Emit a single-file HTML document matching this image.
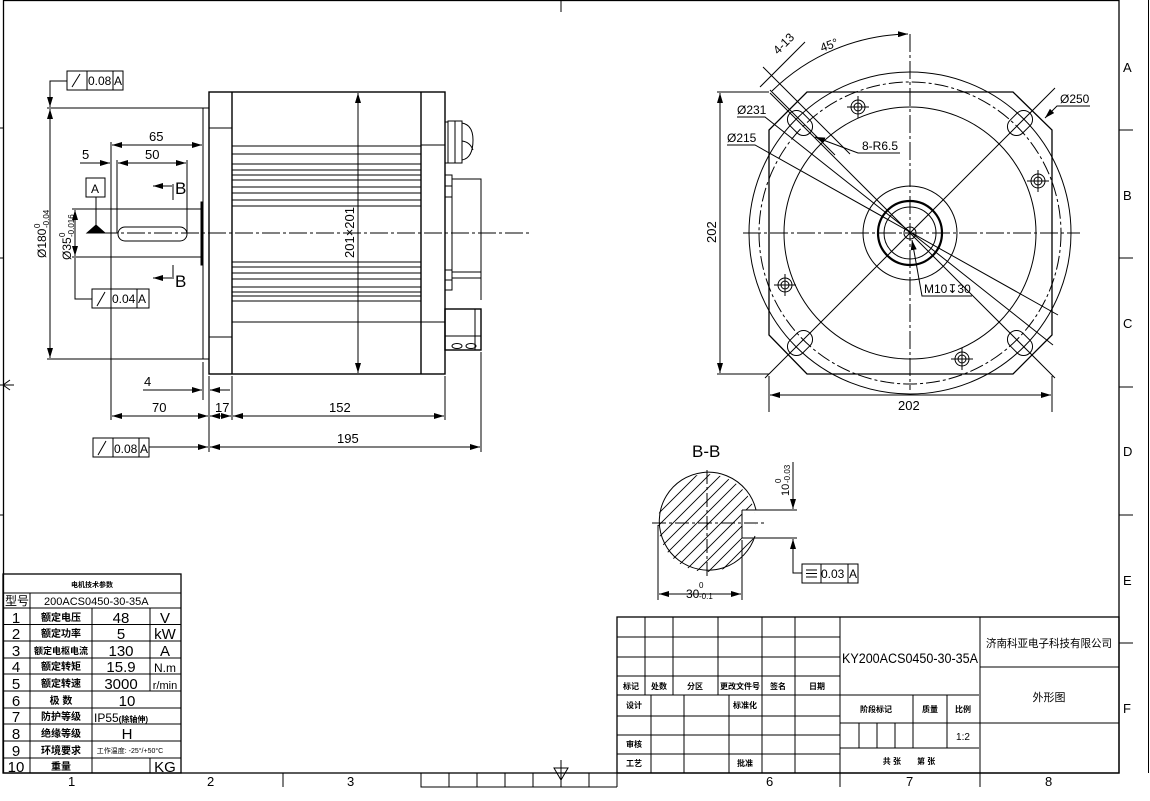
<!DOCTYPE html>
<html><head><meta charset="utf-8"><style>
html,body{margin:0;padding:0;background:#fff}
svg{display:block}
text{font-family:"Liberation Sans","Noto Sans CJK SC",sans-serif;fill:#000}
</style></head><body>
<svg width="1150" height="801" viewBox="0 0 1150 801" xmlns="http://www.w3.org/2000/svg">
<defs>
<marker id="ar" viewBox="0 0 10 6" refX="10" refY="3" markerWidth="10" markerHeight="6" orient="auto-start-reverse" markerUnits="userSpaceOnUse"><path d="M0,0 L10,3 L0,6 z" fill="#000"/></marker>
<clipPath id="cc"><circle cx="707" cy="523" r="49"/></clipPath>
</defs>
<g fill="none" stroke="#000" stroke-width="1">
<rect x="3.5" y="0.5" width="1115.5" height="772.5" stroke-width="1.3"/>
<line x1="1148.5" y1="0" x2="1148.5" y2="773"/>
<line x1="561" y1="0" x2="561" y2="12"/>
<line x1="1119" y1="130" x2="1133" y2="130"/><line x1="1119" y1="258" x2="1133" y2="258"/><line x1="1119" y1="387" x2="1133" y2="387"/><line x1="1119" y1="515" x2="1133" y2="515"/><line x1="1119" y1="643" x2="1133" y2="643"/>
<line x1="0" y1="128" x2="3" y2="128"/><line x1="0" y1="258" x2="3" y2="258"/><line x1="0" y1="515" x2="3" y2="515"/>
<path d="M3,385 L10,380 M3,385 L10,390 M0,385 L14,385"/>
<line x1="283" y1="773" x2="283" y2="787"/><line x1="840" y1="773" x2="840" y2="787"/><line x1="980" y1="773" x2="980" y2="787"/>
<path d="M421,773 V787 H617 M449,773 V787 M477,773 V787 M505,773 V787 M533,773 V787 M589,773 V787 M617,773 V787"/>
<path d="M554,768 L568,768 L561,780 z M561,760 V787"/>

<rect x="67" y="71" width="56" height="19"/><line x1="87" y1="71" x2="87" y2="90"/><line x1="113" y1="71" x2="113" y2="90"/>
<path d="M72,87 L80,74"/>
<polyline points="67,81 50,81 50,107" marker-end="url(#ar)"/>
<line x1="47" y1="108" x2="203" y2="108"/><line x1="47" y1="359" x2="203" y2="359"/>
<line x1="50" y1="109" x2="50" y2="358" marker-start="url(#ar)" marker-end="url(#ar)"/>
<line x1="72" y1="209" x2="111" y2="209"/><line x1="72" y1="257" x2="111" y2="257"/>
<line x1="75" y1="210" x2="75" y2="256" marker-start="url(#ar)" marker-end="url(#ar)"/>
<polyline points="75,258 75,299 92,299"/>
<rect x="92" y="289" width="57" height="19"/><line x1="111" y1="289" x2="111" y2="308"/><line x1="137" y1="289" x2="137" y2="308"/><path d="M97,306 L105,292"/>
<rect x="86" y="178" width="19" height="19"/><line x1="96" y1="197" x2="96" y2="226"/>
<path d="M87,233 L105,233 L96,225 z" fill="#000"/>
<line x1="111" y1="209" x2="203" y2="209"/><line x1="111" y1="257" x2="203" y2="257"/>
<line x1="111" y1="142" x2="111" y2="420"/>
<line x1="117" y1="160" x2="117" y2="233"/><line x1="187" y1="160" x2="187" y2="233"/>
<line x1="112" y1="145" x2="202" y2="145" marker-start="url(#ar)" marker-end="url(#ar)"/>
<line x1="118" y1="163" x2="186" y2="163" marker-start="url(#ar)" marker-end="url(#ar)"/>
<line x1="80" y1="163" x2="110" y2="163" marker-end="url(#ar)"/>
<rect x="118" y="227" width="69" height="14" rx="7"/>
<line x1="153" y1="186" x2="172" y2="186" marker-start="url(#ar)"/><line x1="173" y1="184" x2="173" y2="200"/>
<line x1="153" y1="278" x2="172" y2="278" marker-start="url(#ar)"/><line x1="173" y1="265" x2="173" y2="279"/>
<rect x="203" y="108" width="6" height="251"/>
<rect x="201" y="202" width="2" height="63" fill="#000"/>
<rect x="209" y="92" width="236" height="282" stroke-width="1.4"/>
<line x1="232" y1="92" x2="232" y2="374" stroke-width="1.4"/>
<line x1="421" y1="92" x2="421" y2="374" stroke-width="1.4"/>
<line x1="209" y1="128" x2="232" y2="128"/><line x1="209" y1="337" x2="232" y2="337"/>
<line x1="421" y1="145" x2="445" y2="145"/><line x1="421" y1="322" x2="445" y2="322"/>
<path d="M232,146H421M232,154H421M232,164H421M232,170H421M232,175H421M232,180H421M232,187H421M232,193H421M232,200H421M232,206H421M232,262H421M232,267H421M232,273H421M232,279H421M232,287H421M232,292H421M232,296H421M232,301H421M232,322H421"/>
<line x1="358" y1="93" x2="358" y2="373" marker-start="url(#ar)" marker-end="url(#ar)"/>
<rect x="445" y="122" width="3" height="41"/><rect x="448" y="121" width="7" height="42"/><rect x="455" y="121" width="7" height="42"/>
<path d="M462,123 Q473,125 473,140 Q473,158 462,160 M462,141 Q470,142 473,150"/>
<rect x="445" y="175" width="7" height="115"/><path d="M445,186H452M445,197H452M445,270H452M445,280H452"/>
<path d="M452,179 H481 V300 M452,278 H481 M452,272 H481"/>
<rect x="445" y="309" width="36" height="41" stroke-width="1.4"/>
<line x1="475" y1="309" x2="475" y2="350"/><line x1="445" y1="336" x2="481" y2="336"/>
<ellipse cx="457" cy="346" rx="5" ry="2.5"/><ellipse cx="471" cy="346" rx="5" ry="2.5"/>
<line x1="100" y1="233" x2="530" y2="233" stroke-dasharray="18,3,3,3"/>
<line x1="203" y1="362" x2="203" y2="400"/><line x1="209" y1="376" x2="209" y2="452"/><line x1="232" y1="376" x2="232" y2="420"/><line x1="445" y1="376" x2="445" y2="420"/><line x1="481" y1="352" x2="481" y2="452"/>
<line x1="143" y1="390" x2="202" y2="390" marker-end="url(#ar)"/><line x1="230" y1="390" x2="210" y2="390" marker-end="url(#ar)"/>
<line x1="112" y1="416" x2="208" y2="416" marker-start="url(#ar)" marker-end="url(#ar)"/>
<line x1="210" y1="416" x2="231" y2="416" marker-start="url(#ar)" marker-end="url(#ar)"/>
<line x1="233" y1="416" x2="444" y2="416" marker-start="url(#ar)" marker-end="url(#ar)"/>
<line x1="210" y1="447" x2="480" y2="447" marker-start="url(#ar)" marker-end="url(#ar)"/>
<rect x="93" y="438" width="56" height="19"/><line x1="113" y1="438" x2="113" y2="457"/><line x1="139" y1="438" x2="139" y2="457"/><path d="M98,455 L106,441"/>
<line x1="149" y1="447" x2="208" y2="447" marker-end="url(#ar)"/>

<polygon points="807,92 1013,92 1052,130 1052,335 1013,374 807,374 769,335 769,130" stroke-width="1.3"/>
<circle cx="910" cy="233" r="161"/>
<circle cx="910" cy="233" r="151" stroke-dasharray="14,3,3,3"/>
<circle cx="910" cy="233" r="126"/>
<circle cx="910" cy="233" r="47"/>
<circle cx="910" cy="233" r="32" stroke-width="2.2"/>
<circle cx="910" cy="233" r="26"/>
<circle cx="910" cy="233" r="6"/>
<line x1="743" y1="233" x2="1080" y2="233" stroke-dasharray="18,3,3,3"/>
<line x1="910" y1="34" x2="910" y2="390" stroke-dasharray="18,3,3,3"/>
<line x1="765" y1="378" x2="1055" y2="88"/><line x1="770" y1="93" x2="1055" y2="378"/>
<g transform="rotate(45 800 123)"><rect x="786" y="114" width="28" height="18" rx="9"/></g>
<g transform="rotate(-45 1020 123)"><rect x="1006" y="114" width="28" height="18" rx="9"/></g>
<g transform="rotate(-45 800 343)"><rect x="786" y="334" width="28" height="18" rx="9"/></g>
<g transform="rotate(45 1020 343)"><rect x="1006" y="334" width="28" height="18" rx="9"/></g>
<g id="th"><circle cx="858" cy="107" r="7"/><circle cx="858" cy="107" r="4"/><path d="M847,107H869M858,96V118"/></g>
<use href="#th" transform="translate(180,74)"/><use href="#th" transform="translate(104,252)"/><use href="#th" transform="translate(-73,178)"/>
<line x1="760" y1="87" x2="805" y2="42"/><line x1="763" y1="67" x2="850" y2="154"/><line x1="770" y1="90" x2="835" y2="155"/>
<path d="M772,91 A199,199 0 0 1 908,34" marker-end="url(#ar)"/>
<polyline points="737,117 765,117 1053,345"/>
<polyline points="727,145 755,145 1058,315"/>
<polyline points="900,153 858,153 815,137" marker-end="url(#ar)"/>
<polyline points="972,296 922,296 912,240" marker-end="url(#ar)"/>
<polyline points="1090,106 1057,106 1045,118" marker-end="url(#ar)"/>
<line x1="717" y1="92" x2="769" y2="92"/><line x1="717" y1="374" x2="769" y2="374"/>
<line x1="720" y1="93" x2="720" y2="373" marker-start="url(#ar)" marker-end="url(#ar)"/>
<line x1="769" y1="376" x2="769" y2="412"/><line x1="1052" y1="376" x2="1052" y2="412"/>
<line x1="770" y1="395" x2="1051" y2="395" marker-start="url(#ar)" marker-end="url(#ar)"/>

<g clip-path="url(#cc)" stroke-width="0.9">
<path d="M600,620L760,460M612,620L772,460M624,620L784,460M636,620L796,460M648,620L808,460M660,620L820,460M672,620L832,460M684,620L844,460M696,620L856,460M708,620L868,460M588,620L748,460M576,620L736,460M564,620L724,460M552,620L712,460M540,620L700,460M528,620L688,460M516,620L676,460M504,620L664,460"/>
<rect x="742" y="510" width="20" height="28" fill="#fff" stroke="none"/>
</g>
<path d="M742,510 H756 M742,510 V538 H756"/>
<path d="M756,510 A49,49 0 1 0 755,536"/>
<line x1="707" y1="470" x2="707" y2="578" stroke-dasharray="14,3,3,3"/>
<line x1="652" y1="523" x2="765" y2="523" stroke-dasharray="14,3,3,3"/>
<line x1="756" y1="510" x2="797" y2="510"/><line x1="756" y1="538" x2="797" y2="538"/>
<line x1="793" y1="462" x2="793" y2="509" marker-end="url(#ar)"/>
<polyline points="793,539 793,573 802,573" marker-start="url(#ar)"/>
<rect x="802" y="564" width="56" height="19"/><line x1="821" y1="564" x2="821" y2="583"/><line x1="848" y1="564" x2="848" y2="583"/>
<path d="M806,570H817M806,573.5H817M806,577H817"/>
<line x1="658" y1="525" x2="658" y2="600"/><line x1="742" y1="540" x2="742" y2="600"/>
<line x1="659" y1="594" x2="741" y2="594" marker-start="url(#ar)" marker-end="url(#ar)"/>

<rect x="3" y="574" width="178" height="199" stroke-width="1.3"/>
<path d="M3,593H181M3,608H181M3,624.5H181M3,641H181M3,658H181M3,674H181M3,691H181M3,708H181M3,724H181M3,741H181M3,758H181"/>
<path d="M30,593V773M92,608V773M150,608V691M150,758V773"/>

<rect x="617" y="617" width="502" height="156" stroke-width="1.3"/>
<path d="M617,637H840M617,657H840M617,676H840M617,695H979M617,716H840M617,735H840M617,754H840"/>
<path d="M645,617V695M673,617V695M718,617V695M762,617V773M795,617V773M840,617V773"/>
<path d="M651,695V773M684,695V773M729,695V773"/>
<path d="M840,723H1119M840,748H979M913,695V748M947,695V748M859,723V748M877,723V748M895,723V748M980,617V773M980,667H1119"/>
</g>

<g font-size="12">
<text x="88" y="85">0.08</text><text x="114" y="85">A</text>
<text x="112" y="303">0.04</text><text x="138" y="303">A</text>
<text x="91" y="193">A</text>
<text x="114" y="453">0.08</text><text x="140" y="453">A</text>
<text x="149" y="141" font-size="13">65</text><text x="145" y="159" font-size="13">50</text><text x="82" y="159" font-size="13">5</text>
<text x="175" y="194" font-size="17">B</text><text x="175" y="287" font-size="17">B</text>
<text x="144" y="386" font-size="13">4</text><text x="152" y="412" font-size="13">70</text><text x="215" y="412" font-size="13">17</text><text x="329" y="412" font-size="13">152</text><text x="337" y="443" font-size="13">195</text>
<g transform="translate(46,258) rotate(-90)"><text x="0" y="0" font-size="12">Ø180</text><text x="30" y="-6" font-size="8">0</text><text x="30" y="3" font-size="8">-0.04</text></g>
<g transform="translate(71,260) rotate(-90)"><text x="0" y="0" font-size="12">Ø35</text><text x="23" y="-6" font-size="8">0</text><text x="23" y="3" font-size="8">-0.016</text></g>
<text transform="translate(354,258) rotate(-90)" font-size="13">201×201</text>
<text x="821" y="578">0.03</text><text x="849" y="578">A</text>
<text x="692" y="457" font-size="17">B-B</text>
<text x="686" y="598" font-size="12">30</text><text x="699" y="588" font-size="8">0</text><text x="699" y="599" font-size="8">-0.1</text>
<g transform="translate(789,496) rotate(-90)"><text x="0" y="0" font-size="11">10</text><text x="13" y="-8" font-size="8">0</text><text x="13" y="1" font-size="8">-0.03</text></g>
<text transform="translate(716,243) rotate(-90)" font-size="13">202</text>
<text x="898" y="410" font-size="13">202</text>
<text x="737" y="114" font-size="12">Ø231</text><text x="727" y="142" font-size="12">Ø215</text>
<text x="862" y="150" font-size="12">8-R6.5</text><text x="924" y="293" font-size="12">M10↧30</text>
<text x="1060" y="103" font-size="12">Ø250</text>
<text transform="translate(778,55) rotate(-45)" font-size="12">4-13</text>
<text transform="translate(822,52) rotate(-20)" font-size="12">45°</text>
<text x="1123" y="72" font-size="13">A</text><text x="1123" y="200" font-size="13">B</text><text x="1123" y="328" font-size="13">C</text><text x="1123" y="456" font-size="13">D</text><text x="1123" y="585" font-size="13">E</text><text x="1123" y="713" font-size="13">F</text>
<text x="68" y="786" font-size="13">1</text><text x="207" y="786" font-size="13">2</text><text x="347" y="786" font-size="13">3</text><text x="766" y="786" font-size="13">6</text><text x="906" y="786" font-size="13">7</text><text x="1045" y="786" font-size="13">8</text>
</g>
<text x="92" y="587" font-size="7" font-weight="bold" text-anchor="middle">电机技术参数</text>
<text x="5" y="605" font-size="12">型号</text>
<text x="44" y="605" font-size="11">200ACS0450-30-35A</text>
<g font-size="15" text-anchor="middle">
<text x="16" y="623">1</text><text x="16" y="639">2</text><text x="16" y="656">3</text><text x="16" y="672">4</text><text x="16" y="689">5</text><text x="16" y="706">6</text><text x="16" y="722">7</text><text x="16" y="739">8</text><text x="16" y="756">9</text><text x="16" y="772">10</text>
<text x="121" y="623">48</text><text x="121" y="639">5</text><text x="121" y="656">130</text><text x="121" y="672">15.9</text><text x="121" y="689">3000</text><text x="127" y="706">10</text><text x="127" y="739">H</text>
<text x="165" y="623">V</text><text x="165" y="639">kW</text><text x="165" y="656">A</text><text x="165" y="672" font-size="12">N.m</text><text x="165" y="689" font-size="11">r/min</text><text x="165" y="772">KG</text>
<text x="121" y="722" font-size="12">IP55<tspan font-size="8" font-weight="bold">(除轴伸)</tspan></text>
<text x="130" y="753" font-size="7">工作温度: -25°/+50°C</text>
</g>
<g text-anchor="middle" font-size="10" font-weight="bold">
<text x="61" y="621">额定电压</text><text x="61" y="637">额定功率</text><text x="61" y="654" font-size="9">额定电枢电流</text><text x="61" y="670">额定转矩</text><text x="61" y="687">额定转速</text><text x="61" y="704">极 数</text><text x="61" y="720">防护等级</text><text x="61" y="737">绝缘等级</text><text x="61" y="754">环境要求</text><text x="61" y="770">重量</text>
</g>
<g font-size="8" font-weight="bold" text-anchor="middle">
<text x="631" y="689">标记</text><text x="659" y="689">处数</text><text x="695" y="689">分区</text><text x="740" y="689">更改文件号</text><text x="778" y="689">签名</text><text x="817" y="689">日期</text>
<text x="634" y="708">设计</text><text x="745" y="708">标准化</text><text x="634" y="747">审核</text><text x="634" y="766">工艺</text><text x="745" y="766">批准</text>
<text x="876" y="712">阶段标记</text><text x="930" y="712">质量</text><text x="963" y="712">比例</text>
<text x="909" y="764">共 张　　第 张</text>
</g>
<text x="963" y="740" font-size="10" text-anchor="middle">1:2</text>
<text x="842" y="663" font-size="13.5" textLength="136" lengthAdjust="spacingAndGlyphs">KY200ACS0450-30-35A</text>
<text x="1049" y="647" font-size="11" text-anchor="middle" textLength="126" lengthAdjust="spacingAndGlyphs">济南科亚电子科技有限公司</text>
<text x="1049" y="701" font-size="11" text-anchor="middle">外形图</text>
</svg>
</body></html>
